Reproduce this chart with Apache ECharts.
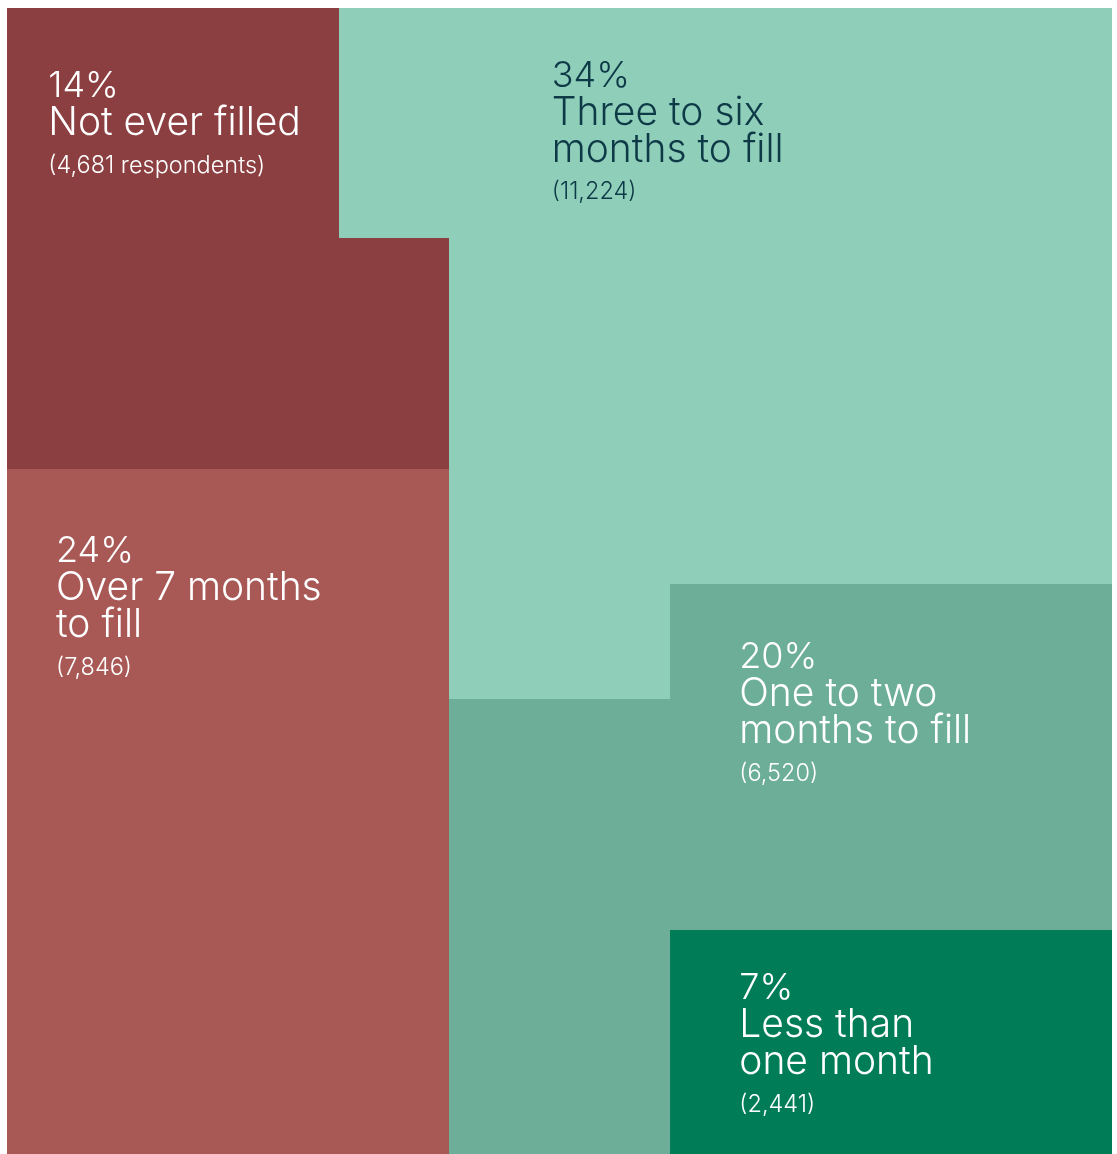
<!DOCTYPE html>
<html>
<head>
<meta charset="utf-8">
<script src="https://cdn.jsdelivr.net/npm/echarts@6/dist/echarts.min.js"></script>
<style>
  html, body { margin: 0; padding: 0; background: #ffffff; }
  #chart { width: 1117px; height: 1154px; }
</style>
</head>
<body>
<div id="chart"></div>
<script>
// Time taken to fill a vacancy, share of respondents
const categories = ['Not ever filled', 'Three to six months to fill', 'Over 7 months to fill', 'One to two months to fill', 'Less than one month'];
const labelLines = [['Not ever filled'], ['Three to six', 'months to fill'], ['Over 7 months', 'to fill'], ['One to two', 'months to fill'], ['Less than', 'one month']];
const percents = [14, 34, 24, 20, 7];
const respondents = [4681, 11224, 7846, 6520, 2441];

// 10 x 10 waffle, one cell per percentage point; each digit is a category index
const waffleRows = [
  '0001111111',
  '0001111111',
  '0000111111',
  '0000111111',
  '2222111111',
  '2222113333',
  '2222333333',
  '2222333333',
  '2222334444',
  '2222334444'
];

// Where each text block starts, in waffle cell units
const labelAnchors = [[0.371, 0.516], [4.928, 0.429], [0.441, 4.553], [6.626, 5.478], [6.626, 8.351]];

const fills = ['#8c3f40', '#8fcfba', '#a85956', '#6dae98', '#007c56'];
const inks = ['#ffffff', '#0e3a47', '#ffffff', '#ffffff', '#ffffff'];

const cells = [];
waffleRows.forEach(function (row, r) {
  row.split('').forEach(function (ch, c) {
    cells.push([c, r, Number(ch)]);
  });
});

function countNote(i) {
  const n = respondents[i].toLocaleString('en-US');
  return i === 0 ? '(' + n + ' respondents)' : '(' + n + ')';
}

const FONT = 'Inter, "Noto Sans", sans-serif';

const labelData = labelAnchors.map(function (a, i) {
  const lines = ['{p|' + percents[i] + '%}']
    .concat(labelLines[i].map(function (t) { return '{t|' + t + '}'; }))
    .concat(['{n|' + countNote(i) + '}']);
  return {
    value: [a[0], a[1], i],
    name: categories[i],
    label: {
      formatter: lines.join('\n'),
      rich: {
        p: { fontFamily: FONT, fontWeight: 350, fontSize: 36, lineHeight: 37, color: inks[i] },
        t: { fontFamily: FONT, fontWeight: 350, fontSize: 39, lineHeight: 37, color: inks[i] },
        n: { fontFamily: FONT, fontWeight: 350, fontSize: 23.5, lineHeight: 48, color: inks[i] }
      }
    }
  };
});

const chart = echarts.init(document.getElementById('chart'), null, { renderer: 'canvas' });

chart.setOption({
  animation: false,
  backgroundColor: '#ffffff',
  grid: { left: 7.3, top: 8, width: 1104.7, height: 1152, outerBoundsMode: 'none', containLabel: false },
  xAxis: { type: 'value', min: 0, max: 10, show: false },
  yAxis: { type: 'value', min: 0, max: 10, inverse: true, show: false },
  series: [
    {
      type: 'custom',
      clip: false,
      data: cells,
      renderItem: function (params, api) {
        const c = api.value(0), r = api.value(1), k = api.value(2);
        const p0 = api.coord([c, r]);
        const p1 = api.coord([c + 1, r + 1]);
        const x0 = Math.round(p0[0]), y0 = Math.round(p0[1]);
        const x1 = Math.round(p1[0]), y1 = Math.round(p1[1]);
        return {
          type: 'rect',
          shape: { x: x0, y: y0, width: x1 - x0, height: y1 - y0 },
          style: { fill: fills[k] }
        };
      }
    },
    {
      type: 'scatter',
      symbolSize: 0,
      z: 10,
      silent: true,
      itemStyle: { opacity: 1 },
      data: labelData,
      label: {
        show: true,
        position: [0, 0],
        align: 'left',
        verticalAlign: 'top'
      }
    }
  ]
});
</script>
</body>
</html>
